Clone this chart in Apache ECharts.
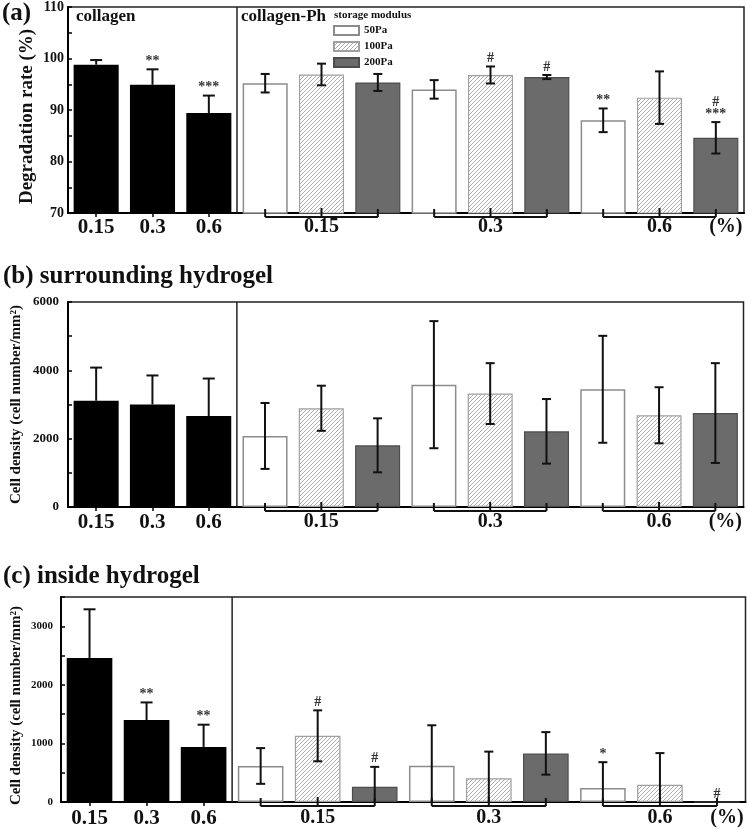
<!DOCTYPE html>
<html>
<head>
<meta charset="utf-8">
<script src="https://cdn.jsdelivr.net/npm/echarts@6/dist/echarts.min.js"></script>
<style>html,body{margin:0;padding:0;background:#fff}#c{width:747px;height:829px}</style>
</head>
<body>
<div id="c"></div>
<script>
// ---------- DATA ----------
const concLabels = ['0.15', '0.3', '0.6'];
const moduli = ['50Pa', '100Pa', '200Pa'];
const unitLabel = '(%)';

// (a) degradation rate (%)
const aYTicks = [70, 80, 90, 100, 110];
const aCollagen = [98.8, 94.9, 89.4];
const aCollagenErr = [0.9, 3.0, 3.4];
const a50 = [95.2, 94.0, 88.0];
const a50Err = [1.8, 1.8, 2.3];
const a100 = [96.9, 96.8, 92.4];
const a100Err = [2.1, 1.65, 5.1];
const a200 = [95.35, 96.4, 84.6];
const a200Err = [1.65, 0.4, 3.05];
const aMarkCol = ['', '**', '***'];
const aMark50 = ['', '', '**'];
const aMark100 = ['', '#', ''];
const aMark200 = ['', '#', '#\n***'];

// (b) surrounding hydrogel, cell density
const bYTicks = [0, 2000, 4000, 6000];
const bCollagen = [3110, 3000, 2660];
const bCollagenErr = [970, 850, 1100];
const b50 = [2080, 3580, 3445];
const b50Err = [965, 1860, 1565];
const b100 = [2890, 3320, 2685];
const b100Err = [660, 890, 820];
const b200 = [1805, 2215, 2750];
const b200Err = [790, 945, 1460];
const bMarkCol = ['', '', ''];
const bMark50 = ['', '', ''];
const bMark100 = ['', '', ''];
const bMark200 = ['', '', ''];

// (c) inside hydrogel, cell density
const cYTicks = [0, 1000, 2000, 3000];
const cYMax = 3500;
const cCollagen = [2460, 1400, 940];
const cCollagenErr = [830, 300, 380];
const c50 = [615, 620, 240];
const c50Err = [305, 690, 440];
const c100 = [1130, 405, 295];
const c100Err = [435, 455, 540];
const c200 = [260, 830, 0];
const c200Err = [340, 363, 0];
const cMarkCol = ['', '**', '**'];
const cMark50 = ['', '', '*'];
const cMark100 = ['#', '', ''];
const cMark200 = ['#', '', '#'];

// ---------- CHART ----------
const FONT = '"Liberation Serif", "DejaVu Serif", serif';

function hatchCanvas() {
  const c = document.createElement('canvas');
  c.width = 4; c.height = 4;
  const g = c.getContext('2d');
  g.fillStyle = '#ffffff'; g.fillRect(0, 0, 4, 4);
  g.strokeStyle = '#a6a6a6'; g.lineWidth = 0.9;
  g.beginPath();
  g.moveTo(0, 4); g.lineTo(4, 0);
  g.moveTo(-1, 1); g.lineTo(1, -1);
  g.moveTo(3, 5); g.lineTo(5, 3);
  g.stroke();
  return c;
}
const hatch = { image: hatchCanvas(), repeat: 'repeat' };

const barStyles = [
  { color: '#ffffff', borderColor: '#8c8c8c', borderWidth: 1.5 },
  { color: hatch, borderColor: '#a0a0a0', borderWidth: 1.2 },
  { color: '#6b6b6b', borderColor: '#4d4d4d', borderWidth: 1.2 }
];

const slotNames = [];
concLabels.forEach(c => slotNames.push('collagen ' + c));
concLabels.forEach(c => moduli.forEach(m => slotNames.push('Ph ' + c + ' ' + m)));

function labelFor(i) {
  if (i < 3) return '{l|' + concLabels[i] + '}';
  if (i === slotNames.length - 1) return '{p|' + unitLabel + '}';
  const k = i - 3;
  if (k % 3 === 1) return '{g|' + concLabels[Math.floor(k / 3)] + '}';
  return '';
}

const grids = [], xAxes = [], yAxes = [], series = [];

function buildPanel(gi, P) {
  grids.push(P.grid);
  xAxes.push({
    type: 'category', gridIndex: gi, data: slotNames,
    axisLine: { lineStyle: { color: '#000', width: 2 } },
    axisTick: { show: true, alignWithLabel: true, interval: (i) => i < 3, length: 4, lineStyle: { color: '#000', width: 1.5 } },
    axisLabel: {
      interval: 0, margin: P.xMargin, formatter: (v, i) => labelFor(i),
      rich: {
        l: { fontFamily: FONT, fontWeight: 'bold', fontSize: 21, color: '#111' },
        g: { fontFamily: FONT, fontWeight: 'bold', fontSize: 20, color: '#111' },
        p: { fontFamily: FONT, fontWeight: 'bold', fontSize: 20, color: '#111', padding: [0, 0, 0, 20] }
      }
    },
    splitLine: { show: false }
  });
  const t = P.ticks;
  yAxes.push({
    type: 'value', gridIndex: gi, min: t[0], max: P.max, interval: t[1] - t[0],
    name: P.name, nameLocation: 'middle', nameGap: P.nameGap, nameRotate: 90, nameMoveOverlap: false,
    nameTextStyle: { fontFamily: FONT, fontWeight: 'bold', fontSize: P.nameSize, color: '#111', padding: P.namePad },
    axisLine: { show: true, lineStyle: { color: '#000', width: 2 } },
    axisTick: { show: true, inside: true, length: 4, lineStyle: { color: '#000', width: 1.5 } },
    minorTick: { show: true, splitNumber: 2, length: 4, lineStyle: { color: '#000', width: 1.5 } },
    splitLine: { show: false },
    axisLabel: { fontFamily: FONT, fontWeight: 'bold', fontSize: P.ySize, color: '#111', margin: P.yMargin, showMaxLabel: P.showMax, formatter: (v) => String(v) }
  });

  const N = slotNames.length;
  const colData = Array(N).fill(null);
  const phData = moduli.map(() => Array(N).fill(null));
  const errs = [];
  P.col.forEach((v, i) => { colData[i] = v; errs.push({ x: i, v, sd: P.colErr[i], mark: P.colMark[i], cap: 6, upOnly: true }); });
  moduli.forEach((m, mi) => P.ph[mi].forEach((v, ci) => {
    const x = 3 + ci * 3 + mi;
    phData[mi][x] = v;
    errs.push({ x, v, sd: P.phErr[mi][ci], mark: P.phMark[mi][ci], cap: 4.5, upOnly: false });
  }));

  series.push({
    type: 'bar', name: 'collagen', xAxisIndex: gi, yAxisIndex: gi, data: colData,
    barWidth: '80%', barGap: '-100%', itemStyle: { color: '#000' }, z: 2
  });
  moduli.forEach((m, mi) => series.push({
    type: 'bar', name: m, xAxisIndex: gi, yAxisIndex: gi, data: phData[mi],
    barWidth: '80%', barGap: '-100%', itemStyle: barStyles[mi], z: 2
  }));

  const ymin = t[0], ymax = P.max;
  series.push({
    type: 'custom', xAxisIndex: gi, yAxisIndex: gi, clip: false, silent: true, z: 5,
    data: errs.map(e => [e.x, e.v]),
    renderItem: (params, api) => {
      const e = errs[params.dataIndex];
      const hi = e.v + e.sd;
      const lo = e.upOnly ? e.v : Math.max(ymin, e.v - e.sd);
      const top = api.coord([e.x, hi]), bot = api.coord([e.x, lo]);
      const ch = [];
      const ls = { stroke: '#111', lineWidth: 2 };
      if (e.sd > 0) {
        ch.push({ type: 'line', shape: { x1: top[0], y1: top[1], x2: bot[0], y2: bot[1] }, style: ls });
        ch.push({ type: 'line', shape: { x1: top[0] - e.cap, y1: top[1], x2: top[0] + e.cap, y2: top[1] }, style: ls });
        if (!e.upOnly && e.v - e.sd > ymin) ch.push({ type: 'line', shape: { x1: bot[0] - e.cap, y1: bot[1], x2: bot[0] + e.cap, y2: bot[1] }, style: ls });
      }
      if (e.mark) ch.push({ type: 'text', style: { text: e.mark, x: top[0], y: top[1] - 2, align: 'center', verticalAlign: 'bottom', font: 'bold 14px ' + FONT, fill: '#333', lineHeight: 12 } });
      return { type: 'group', children: ch };
    }
  });

  // group brackets under collagen-Ph bars
  series.push({
    type: 'custom', xAxisIndex: gi, yAxisIndex: gi, clip: false, silent: true, z: 6,
    data: concLabels.map((c, ci) => [3 + ci * 3, ymin]),
    renderItem: (params, api) => {
      const s = api.value(0);
      const p0 = api.coord([s, ymin]), p1 = api.coord([s + 1, ymin]), p2 = api.coord([s + 2, ymin]);
      const y = p0[1], ls = { stroke: '#111', lineWidth: 2 };
      return { type: 'group', children: [
        { type: 'line', shape: { x1: p0[0], y1: y + 4, x2: p2[0], y2: y + 4 }, style: ls },
        { type: 'line', shape: { x1: p0[0], y1: y - 4, x2: p0[0], y2: y + 4 }, style: ls },
        { type: 'line', shape: { x1: p1[0], y1: y - 5, x2: p1[0], y2: y + 4 }, style: ls },
        { type: 'line', shape: { x1: p2[0], y1: y - 4, x2: p2[0], y2: y + 4 }, style: ls }
      ] };
    }
  });

  // divider between collagen and collagen-Ph
  series.push({
    type: 'custom', xAxisIndex: gi, yAxisIndex: gi, clip: false, silent: true, z: 6,
    data: [[2, ymin]],
    renderItem: (params, api) => {
      const a = api.coord([2, ymin]), b = api.coord([3, ymax]);
      const x = (a[0] + b[0]) / 2;
      return { type: 'line', shape: { x1: x, y1: b[1], x2: x, y2: a[1] }, style: { stroke: '#222', lineWidth: 1.5 } };
    }
  });
}

const gridStyle = { show: true, borderColor: '#222', borderWidth: 1.5, backgroundColor: 'transparent' };

buildPanel(0, {
  grid: Object.assign({ left: 68, right: 3, top: 7, height: 206 }, gridStyle),
  ticks: aYTicks, max: aYTicks[aYTicks.length - 1], showMax: true,
  name: 'Degradation rate (%)', nameGap: 31, nameSize: 19, namePad: [0, 13, 0, 0], ySize: 14, yMargin: 4, xMargin: 4,
  col: aCollagen, colErr: aCollagenErr, colMark: aMarkCol,
  ph: [a50, a100, a200], phErr: [a50Err, a100Err, a200Err], phMark: [aMark50, aMark100, aMark200]
});
buildPanel(1, {
  grid: Object.assign({ left: 68, right: 3.5, top: 302, height: 205 }, gridStyle),
  ticks: bYTicks, max: bYTicks[bYTicks.length - 1], showMax: true,
  name: 'Cell density (cell number/mm²)', nameGap: 44, nameSize: 15, namePad: [0, 0, 0, 0], ySize: 13, yMargin: 9, xMargin: 5,
  col: bCollagen, colErr: bCollagenErr, colMark: bMarkCol,
  ph: [b50, b100, b200], phErr: [b50Err, b100Err, b200Err], phMark: [bMark50, bMark100, bMark200]
});
buildPanel(2, {
  grid: Object.assign({ left: 61, right: 1.5, top: 597, height: 205 }, gridStyle),
  ticks: cYTicks, max: cYMax, showMax: false,
  name: 'Cell density (cell number/mm²)', nameGap: 37, nameSize: 15, namePad: [0, 12, 0, 0], ySize: 11, yMargin: 8, xMargin: 6,
  col: cCollagen, colErr: cCollagenErr, colMark: cMarkCol,
  ph: [c50, c100, c200], phErr: [c50Err, c100Err, c200Err], phMark: [cMark50, cMark100, cMark200]
});

function txt(text, left, top, size) {
  return { type: 'text', left, top, z: 10, style: { text, font: 'bold ' + size + 'px ' + FONT, fill: '#111' } };
}

const chart = echarts.init(document.getElementById('c'), null, { renderer: 'canvas' });
chart.setOption({
  animation: false,
  backgroundColor: '#fff',
  grid: grids, xAxis: xAxes, yAxis: yAxes, series,
  legend: {
    data: moduli, orient: 'vertical', left: 333, top: 25, padding: 0, itemWidth: 25, itemHeight: 9, itemGap: 5,
    icon: 'rect', selectedMode: false,
    textStyle: { fontFamily: FONT, fontWeight: 'bold', fontSize: 11, color: '#111' }
  },
  graphic: [
    txt('(a)', 2, 1, 25),
    txt('collagen', 76, 8, 17),
    txt('collagen-Ph', 241, 8, 17),
    txt('storage modulus', 334, 10, 11),
    txt('(b) surrounding hydrogel', 3, 264, 25),
    txt('(c) inside hydrogel', 3, 564, 25)
  ]
});
</script>
</body>
</html>
